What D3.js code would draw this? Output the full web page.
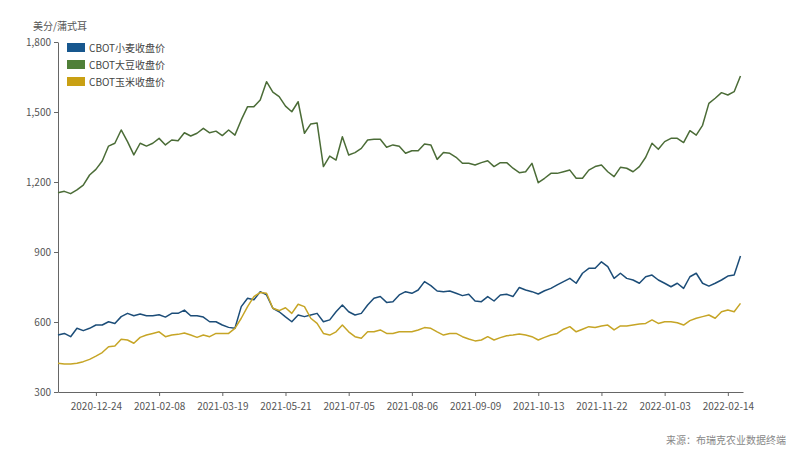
<!DOCTYPE html>
<html>
<head>
<meta charset="utf-8">
<script src="https://cdn.jsdelivr.net/npm/d3@7"></script>
<style>
  body { margin: 0; background: #fff; }
  text { font-family: "Noto Sans CJK SC", "Noto Sans", sans-serif; }
</style>
</head>
<body>
<script>
// Tick labels on the category axis and the point index they sit on
const tickLabels = ["2020-12-24", "2021-02-08", "2021-03-19", "2021-05-21", "2021-07-05",
  "2021-08-06", "2021-09-09", "2021-10-13", "2021-11-22", "2022-01-03", "2022-02-14"];
const tickIndex = [6, 16, 26, 36, 46, 56, 66, 76, 86, 96, 106];

// Series names
const seriesNames = ["CBOT小麦收盘价", "CBOT大豆收盘价", "CBOT玉米收盘价"];

// Wheat closing price (cents/bushel)
const wheat = [544, 551, 537, 573, 563, 573, 587, 587, 601, 594, 623, 637, 627, 634, 627, 627, 631, 621, 637, 637,
  651, 627, 627, 621, 601, 601, 587, 577, 573, 666, 702, 695, 730, 716, 659, 644, 622, 601, 630, 623,
  630, 637, 601, 609, 644, 673, 644, 630, 637, 673, 702, 709, 684, 687, 716, 730, 723, 737, 773, 756,
  733, 730, 733, 723, 713, 719, 690, 687, 709, 690, 716, 719, 709, 748, 737, 730, 720, 734, 744, 759,
  773, 787, 766, 809, 830, 830, 858, 837, 787, 809, 787, 780, 766, 794, 801, 780, 766, 751, 766, 744,
  794, 809, 766, 754, 766, 780, 797, 801, 883];

// Soybean closing price
const soybean = [1154, 1160, 1150, 1166, 1187, 1230, 1254, 1290, 1354, 1366, 1423, 1373, 1316, 1366, 1354, 1366, 1387, 1359, 1380, 1377,
  1411, 1397, 1409, 1430, 1411, 1418, 1399, 1423, 1401, 1466, 1523, 1523, 1551, 1630, 1585, 1566, 1525, 1501, 1544, 1409,
  1449, 1453, 1266, 1311, 1294, 1394, 1316, 1326, 1344, 1380, 1383, 1383, 1349, 1359, 1353, 1323, 1334, 1334, 1363, 1359,
  1297, 1326, 1323, 1306, 1280, 1280, 1273, 1283, 1291, 1266, 1283, 1283, 1259, 1240, 1244, 1280, 1197, 1216, 1237, 1237,
  1244, 1251, 1216, 1216, 1251, 1266, 1273, 1244, 1223, 1263, 1259, 1244, 1266, 1306, 1366, 1340, 1373, 1387, 1387, 1369,
  1420, 1401, 1443, 1537, 1559, 1583, 1573, 1587, 1654];

// Corn closing price
const corn = [423, 420, 420, 423, 430, 440, 454, 469, 494, 497, 526, 523, 509, 534, 544, 551, 558, 537, 544, 547,
  553, 544, 534, 544, 537, 551, 551, 551, 573, 616, 666, 709, 726, 723, 659, 649, 661, 637, 676, 666,
  616, 594, 551, 544, 558, 587, 558, 537, 530, 558, 558, 566, 551, 551, 558, 558, 558, 566, 576, 573,
  558, 544, 551, 551, 537, 527, 519, 523, 537, 523, 533, 541, 544, 549, 544, 537, 523, 534, 544, 551,
  569, 580, 558, 569, 580, 576, 583, 587, 566, 583, 583, 587, 591, 594, 609, 594, 601, 601, 597, 587,
  606, 616, 623, 630, 616, 644, 651, 644, 680];

const yTicks = [300, 600, 900, 1200, 1500, 1800];
// swatch colours are brighter than the thin lines in the original
const swatchColors = ["#17578e", "#4f7f38", "#c9a013"];
const lineColors = ["#1c4d78", "#4b6c37", "#c6a526"];

const width = 800;
const height = 450;
const margin = { top: 42, right: 57, bottom: 58, left: 58 };

const svg = d3.select("body")
  .append("svg")
  .attr("width", width)
  .attr("height", height);

// x: point index on a category axis, y: price
const x = d3.scaleLinear()
  .domain([0, 108.4])
  .range([margin.left, width - margin.right]);

const y = d3.scaleLinear()
  .domain([300, 1800])
  .range([height - margin.bottom, margin.top]);

// Axes
const xAxis = svg.append("g")
  .attr("transform", `translate(0,${height - margin.bottom})`)
  .call(d3.axisBottom(x)
    .tickValues(tickIndex)
    .tickFormat((d, i) => tickLabels[i])
    .tickSize(4)
    .tickSizeOuter(0));

const yAxis = svg.append("g")
  .attr("transform", `translate(${margin.left},0)`)
  .call(d3.axisLeft(y)
    .tickValues(yTicks)
    .tickFormat(d3.format(","))
    .tickSize(4)
    .tickSizeOuter(0));

[xAxis, yAxis].forEach(g => {
  g.select(".domain").attr("stroke", "#666");
  g.selectAll(".tick line").attr("stroke", "#666");
  g.selectAll(".tick text")
    .attr("fill", "#555")
    .style("font-size", "10px");
});
xAxis.selectAll(".tick text").attr("dy", "1.1em");

// Lines
const line = d3.line()
  .x((d, i) => x(i))
  .y(d => y(d));

[wheat, soybean, corn].forEach((s, k) => {
  svg.append("path")
    .datum(s)
    .attr("fill", "none")
    .attr("stroke", lineColors[k])
    .attr("stroke-width", 1.5)
    .attr("stroke-linejoin", "round")
    .attr("d", line);
});

// Legend
const legend = svg.append("g")
  .attr("transform", "translate(67,43)");

seriesNames.forEach((name, k) => {
  const row = legend.append("g").attr("transform", `translate(0,${k * 17})`);
  row.append("rect")
    .attr("width", 18)
    .attr("height", 9)
    .attr("fill", swatchColors[k]);
  row.append("text")
    .attr("x", 22)
    .attr("y", 8.5)
    .attr("fill", "#444")
    .style("font-size", "10px")
    .text(name);
});

// Unit label
svg.append("text")
  .attr("x", 33)
  .attr("y", 30)
  .attr("fill", "#555")
  .style("font-size", "10px")
  .text("美分/蒲式耳");

// Source note
svg.append("text")
  .attr("x", 786)
  .attr("y", 444)
  .attr("text-anchor", "end")
  .attr("fill", "#888")
  .style("font-size", "10px")
  .text("来源：布瑞克农业数据终端");
</script>
</body>
</html>
